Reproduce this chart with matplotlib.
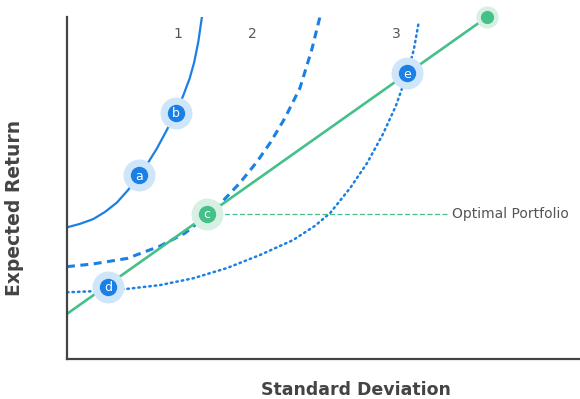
import numpy as np
import matplotlib.pyplot as plt

# кривые безразличия (снято по точкам)
c1_x = [0, 0.25, 0.51, 0.74, 0.97, 1.19, 1.41, 1.58, 1.75, 1.93, 2.12, 2.26, 2.39, 2.48, 2.56, 2.63]
c1_y = [3.85, 3.95, 4.09, 4.30, 4.57, 4.94, 5.38, 5.74, 6.15, 6.65, 7.20, 7.68, 8.20, 8.68, 9.28, 10.0]

c2_x = [0, 0.51, 1.17, 1.81, 2.30, 2.69, 3.02, 3.37, 3.70, 3.96, 4.25, 4.54, 4.77, 4.93]
c2_y = [2.70, 2.78, 2.94, 3.30, 3.68, 4.15, 4.59, 5.15, 5.76, 6.32, 7.05, 7.92, 9.04, 10.0]

c3_x = [0, 0.64, 1.17, 1.81, 2.46, 3.12, 3.76, 4.41, 4.83, 5.13, 5.52, 5.85, 6.16, 6.41, 6.63, 6.76, 6.86]
c3_y = [1.95, 1.99, 2.05, 2.16, 2.36, 2.66, 3.04, 3.48, 3.89, 4.27, 5.00, 5.73, 6.58, 7.40, 8.33, 9.04, 9.88]

# линия рынка капитала
cml_x = [0, 8.19]
cml_y = [1.32, 10.0]

# портфели
pts_name = ['a', 'b', 'd', 'e']
pts_x = [1.41, 2.12, 0.80, 6.63]
pts_y = [5.38, 7.20, 2.11, 8.35]
opt_x, opt_y = 2.73, 4.25

curve_labels = ['1', '2', '3']
curve_label_x = [2.17, 3.61, 6.41]

BLUE = '#1a80e5'
GREEN = '#45c089'
GRAY = '#555555'

fig = plt.figure(figsize=(5.8, 3.99), dpi=100)
ax = fig.add_axes([67/580, 40/399, 513/580, 342/399])
ax.set_xlim(0, 10)
ax.set_ylim(0, 10)

ax.plot(c1_x, c1_y, color=BLUE, lw=1.6, solid_joinstyle='round')
ax.plot(c2_x, c2_y, color=BLUE, lw=2.2, dashes=(2.6, 1.8))
ax.plot(c3_x, c3_y, color=BLUE, lw=1.8, dashes=(0.6, 1.6), dash_capstyle='round')
ax.plot(cml_x, cml_y, color=GREEN, lw=1.9)

# оптимальный портфель
ax.plot([opt_x + 0.2, 7.42], [opt_y, opt_y], color=GREEN, lw=0.9, dashes=(4, 2))
ax.text(7.5, opt_y, 'Optimal Portfolio', color=GRAY, fontsize=10, va='center', ha='left')

for n, x, y in zip(pts_name, pts_x, pts_y):
    ax.plot(x, y, 'o', ms=23, color='#cfe5fa', mec='none', clip_on=False)
    ax.plot(x, y, 'o', ms=12.5, color=BLUE, mec='none', clip_on=False)
    ax.text(x, y - 0.03, n, color='white', fontsize=9, ha='center', va='center')

ax.plot(opt_x, opt_y, 'o', ms=23, color='#d6f0e3', mec='none')
ax.plot(opt_x, opt_y, 'o', ms=12.5, color=GREEN, mec='none')
ax.text(opt_x, opt_y - 0.03, 'c', color='white', fontsize=9, ha='center', va='center')

ax.plot(cml_x[-1], cml_y[-1], 'o', ms=16, color='#d6f0e3', mec='none', clip_on=False)
ax.plot(cml_x[-1], cml_y[-1], 'o', ms=9.5, color=GREEN, mec='none', clip_on=False)

for lab, x in zip(curve_labels, curve_label_x):
    ax.text(x, 9.5, lab, color=GRAY, fontsize=10, ha='center', va='center')

for s in ['top', 'right']:
    ax.spines[s].set_visible(False)
for s in ['left', 'bottom']:
    ax.spines[s].set_color('#444444')
    ax.spines[s].set_linewidth(1.6)
ax.set_xticks([])
ax.set_yticks([])

fig.text(356/580, 1 - 390/399, 'Standard Deviation', fontsize=12.5, fontweight='bold',
         color='#444444', ha='center', va='center')
fig.text(15/580, 1 - 208/399, 'Expected Return', fontsize=13.5, fontweight='bold',
         color='#444444', ha='center', va='center', rotation=90)

fig.savefig('out.png', dpi=100)
